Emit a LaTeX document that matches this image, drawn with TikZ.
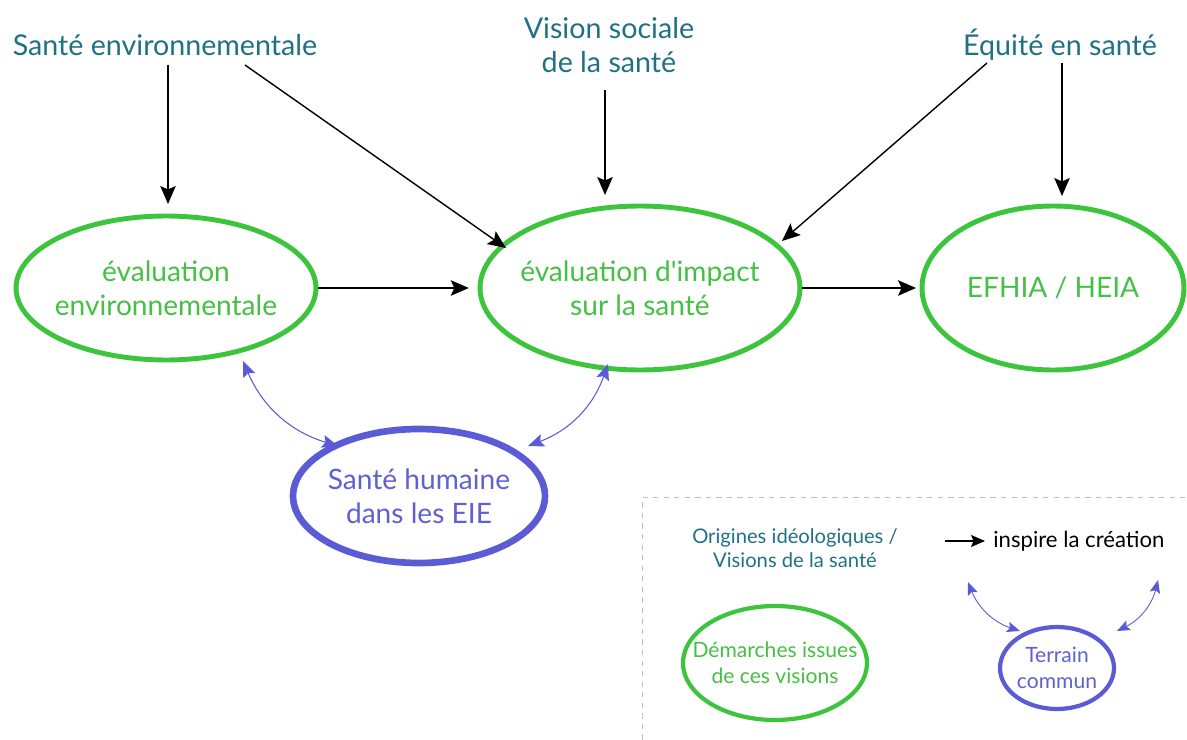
\documentclass[tikz,border=0pt]{standalone}
\usepackage{fontspec}
\setmainfont{Lato}
\usetikzlibrary{shapes.geometric,arrows.meta}
\definecolor{teal}{HTML}{1F7184}
\definecolor{grn}{HTML}{3CC43C}
\definecolor{grntxt}{HTML}{44C044}
\definecolor{blu}{HTML}{5B5BD6}
\definecolor{blutxt}{HTML}{6060D0}
\tikzset{
  origin/.style={text=teal,font=\fontsize{16.3}{19.5}\selectfont,align=center,inner sep=0pt},
  demarche/.style={ellipse,draw=grn,line width=2.8pt,text=grntxt,font=\fontsize{16}{19.5}\selectfont,align=center,inner sep=-30pt},
  terrain/.style={ellipse,draw=blu,line width=3.8pt,text=blutxt,font=\fontsize{16}{19.5}\selectfont,align=center,inner sep=-30pt},
  inspire/.style={-{Stealth[length=3.6mm,width=3.1mm,inset=0.7mm]},line width=0.8pt,black},
  common/.style={{Stealth[length=3.2mm,width=2.6mm,inset=0.6mm]}-{Stealth[length=3.2mm,width=2.6mm,inset=0.6mm]},line width=0.6pt,blu},
  smallcommon/.style={{Stealth[length=2.6mm,width=2.1mm,inset=0.5mm]}-{Stealth[length=2.6mm,width=2.1mm,inset=0.5mm]},line width=0.5pt,blu},
}
\begin{document}
\begin{tikzpicture}[x=0.02cm,y=-0.02cm]
\useasboundingbox (0,0) rectangle (1187,740);
% origins
\node[origin] (se) at (165,45) {Santé environnementale};
\node[origin] (vs) at (609,45) {Vision sociale\\de la santé};
\node[origin] (eq) at (1060,45) {Équité en santé};
% demarches
\node[demarche,minimum width=6cm,minimum height=2.88cm] (ee) at (166,288) {évaluation\\environnementale};
\node[demarche,minimum width=6.4cm,minimum height=3.28cm] (eis) at (640,288) {évaluation d\textquotesingle impact\\sur la santé};
\node[demarche,minimum width=5.24cm,minimum height=3.28cm] (ef) at (1053,288) {EFHIA / HEIA};
\node[terrain,minimum width=5.04cm,minimum height=2.68cm] (sh) at (419,496) {Santé humaine\\dans les EIE};
% coordinates for arrow starts
\coordinate (se1) at (168,65);
\coordinate (se2) at (245,65);
\coordinate (vs1) at (605,90);
\coordinate (eq1) at (987,63);
\coordinate (eq2) at (1062,63);
\coordinate (ee1) at (168,204);
\coordinate (eis1) at (506,248);
\coordinate (eis2) at (605,195);
\coordinate (eis3) at (782,241);
\coordinate (ef1) at (1062,196);
\draw[inspire] (se1) -- (ee1);
\draw[inspire] (se2) -- (eis1);
\draw[inspire] (vs1) -- (eis2);
\draw[inspire] (eq1) -- (eis3);
\draw[inspire] (eq2) -- (ef1);
\draw[inspire,shorten <=0pt,shorten >=5pt] (ee.east) -- (eis.west);
\draw[inspire,shorten <=0pt,shorten >=2pt] (eis.east) -- (ef.west);
% common ground arrows
\coordinate (c1) at (243,361);
\coordinate (c2) at (338,446);
\coordinate (c3) at (608,364);
\coordinate (c4) at (528,446);
\draw[common] (c1) to[bend right=25] (c2);
\draw[common] (c3) to[bend left=25] (c4);
% legend
\node[draw=black!25,dashed,line width=0.4pt,minimum width=10.9cm,minimum height=4.88cm,anchor=north west,inner sep=0pt] (lg) at (642,497) {};
\node[origin,font=\fontsize{11.5}{14}\selectfont] (lo) at (795,548) {Origines idéologiques /\\Visions de la santé};
\coordinate (la1) at (945,541);
\coordinate (la2) at (985,541);
\draw[inspire,-{Stealth[length=2.8mm,width=2.4mm,inset=0.5mm]}] (la1) -- (la2);
\node[anchor=west,font=\fontsize{12.6}{15}\selectfont,inner sep=0pt] (lt) at (993,541) {inspire la création};
\node[demarche,line width=2.4pt,font=\fontsize{12}{14.5}\selectfont,minimum width=3.68cm,minimum height=2.28cm] (ld) at (775,663) {Démarches issues\\de ces visions};
\node[terrain,line width=2.4pt,font=\fontsize{12}{14.5}\selectfont,minimum width=2.28cm,minimum height=1.64cm] (lc) at (1057,668) {Terrain\\commun};
\coordinate (lc1) at (968,582);
\coordinate (lc2) at (1020,631);
\coordinate (lc3) at (1158,580);
\coordinate (lc4) at (1117,631);
\draw[smallcommon] (lc1) to[bend right=25] (lc2);
\draw[smallcommon] (lc3) to[bend left=25] (lc4);
\end{tikzpicture}
\end{document}
